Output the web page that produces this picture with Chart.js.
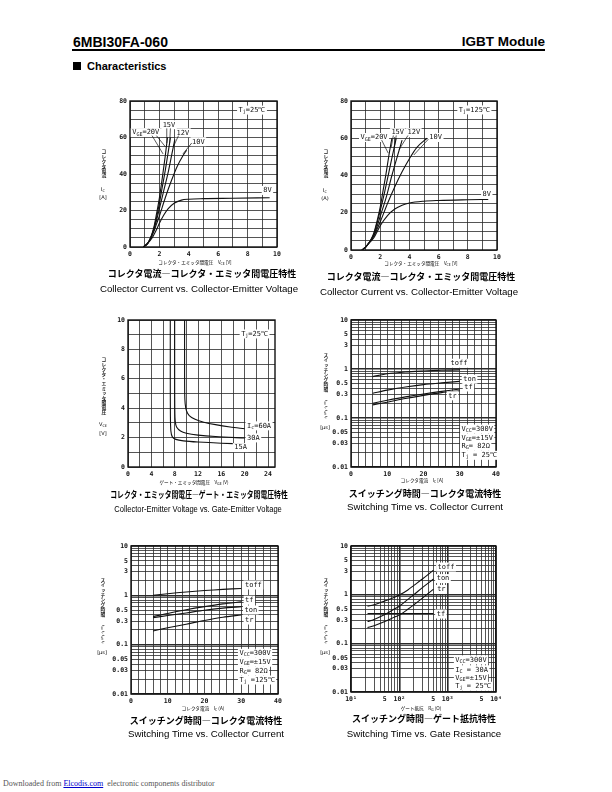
<!DOCTYPE html>
<html>
<head>
<meta charset="utf-8">
<script src="https://cdn.jsdelivr.net/npm/chart.js@4.4.1/dist/chart.umd.min.js"></script>
<style>
body { margin: 0; background: #fff; }
#page { position: relative; width: 612px; height: 792px; overflow: hidden; font-family: 'Liberation Sans', Arial, sans-serif; color: #000; }
#page div, #page canvas { position: absolute; }
.c { transform: translate(-50%, -50%); white-space: nowrap; line-height: 1; }
.jt { font-family: 'Noto Sans CJK JP'; font-weight: 700; font-size: 9px; }
.et { font-size: 9.7px; }
.ax { font-family: 'Noto Sans CJK JP'; font-size: 4.6px; }
.ax sub, .un sub { font-size: 3.5px; vertical-align: -1px; }
.vl { font-family: 'Noto Sans CJK JP'; font-weight: 700; font-size: 4.8px; writing-mode: vertical-rl; line-height: 1; transform: translateX(-50%); color: #222; }
.un { font-size: 5px; font-family: 'DejaVu Sans'; }
</style>
</head>
<body>
<div id="page">
  <div style="left:73px;top:35px;font-size:14px;font-weight:700;line-height:1;">6MBI30FA-060</div>
  <div style="right:67px;top:35px;font-size:13.5px;font-weight:700;line-height:1;">IGBT Module</div>
  <div style="left:72px;top:49px;width:473px;height:1.5px;background:#000;"></div>
  <div style="left:73px;top:62px;width:8px;height:8px;background:#000;"></div>
  <div style="left:87px;top:60.5px;font-size:11px;font-weight:700;line-height:1;">Characteristics</div>

  <canvas id="c1"></canvas>
  <canvas id="c2"></canvas>
  <canvas id="c3"></canvas>
  <canvas id="c4"></canvas>
  <canvas id="c5"></canvas>
  <canvas id="c6"></canvas>

  <!-- row 1 -->
  <div class="vl" style="left:103px;top:149px;">コレクタ電流</div>
  <div class="un c" style="left:103px;top:190px;">I<sub>C</sub></div>
  <div class="un c" style="left:103px;top:197px;">[A]</div>
  <div class="ax c" style="left:195px;top:263px;">コレクタ・エミッタ間電圧　V<sub>CE</sub> [V]</div>
  <div class="jt c" style="left:202px;top:273px;">コレクタ電流―コレクタ・エミッタ間電圧特性</div>
  <div class="et c" style="left:199px;top:289px;">Collector Current vs. Collector-Emitter Voltage</div>

  <div class="vl" style="left:325px;top:149px;">コレクタ電流</div>
  <div class="un c" style="left:325px;top:191px;">I<sub>C</sub></div>
  <div class="un c" style="left:325px;top:198px;">(A)</div>
  <div class="ax c" style="left:421px;top:264px;">コレクタ・エミッタ間電圧　V<sub>CE</sub> [V]</div>
  <div class="jt c" style="left:421px;top:276px;">コレクタ電流―コレクタ・エミッタ間電圧特性</div>
  <div class="et c" style="left:419px;top:292px;">Collector Current vs. Collector-Emitter Voltage</div>

  <!-- row 2 -->
  <div class="vl" style="left:103px;top:357px;">コレクタ・エミッタ間電圧</div>
  <div class="un c" style="left:103px;top:425px;">V<sub>CE</sub></div>
  <div class="un c" style="left:103px;top:433px;">[V]</div>
  <div class="ax c" style="left:194px;top:483px;">ゲート・エミッタ間電圧　V<sub>GE</sub> (V)</div>
  <div class="jt c" style="left:199px;top:494px;transform:translate(-50%,-50%) scaleX(0.76);">コレクタ・エミッタ間電圧―ゲート・エミッタ間電圧特性</div>
  <div class="et c" style="left:198px;top:509px;transform:translate(-50%,-50%) scaleX(0.78);">Collector-Emitter Voltage vs. Gate-Emitter Voltage</div>

  <div class="vl" style="left:325px;top:353px;">スイッチング時間</div>
  <div class="vl" style="left:325px;top:400px;font-family:'DejaVu Sans';font-weight:400;font-size:3.5px;">t<sub>on</sub> t<sub>r</sub> t<sub>off</sub> t<sub>f</sub></div>
  <div class="un c" style="left:325px;top:427px;">[μs]</div>
  <div class="ax c" style="left:422px;top:481px;">コレクタ電流　I<sub>C</sub> [A]</div>
  <div class="jt c" style="left:425px;top:493px;">スイッチング時間―コレクタ電流特性</div>
  <div class="et c" style="left:425px;top:507px;">Switching Time vs. Collector Current</div>

  <!-- row 3 -->
  <div class="vl" style="left:102px;top:578px;">スイッチング時間</div>
  <div class="vl" style="left:102px;top:625px;font-family:'DejaVu Sans';font-weight:400;font-size:3.5px;">t<sub>on</sub> t<sub>r</sub> t<sub>off</sub> t<sub>f</sub></div>
  <div class="un c" style="left:102px;top:652px;">[μs]</div>
  <div class="ax c" style="left:203px;top:709px;">コレクタ電流　I<sub>C</sub> (A)</div>
  <div class="jt c" style="left:206px;top:720px;">スイッチング時間―コレクタ電流特性</div>
  <div class="et c" style="left:206px;top:734px;">Switching Time vs. Collector Current</div>

  <div class="vl" style="left:325px;top:578px;">スイッチング時間</div>
  <div class="vl" style="left:325px;top:625px;font-family:'DejaVu Sans';font-weight:400;font-size:3.5px;">t<sub>on</sub> t<sub>r</sub> t<sub>off</sub> t<sub>f</sub></div>
  <div class="un c" style="left:325px;top:652px;">[μs]</div>
  <div class="ax c" style="left:421px;top:709px;">ゲート抵抗　R<sub>G</sub> (Ω)</div>
  <div class="jt c" style="left:424px;top:718px;">スイッチング時間―ゲート抵抗特性</div>
  <div class="et c" style="left:424px;top:734px;">Switching Time vs. Gate Resistance</div>

  <div style="left:3px;top:780px;font-family:'Liberation Serif';font-size:8px;color:#555;line-height:1;white-space:nowrap;">Downloaded from <span style="color:#00c;text-decoration:underline;">Elcodis.com</span>&nbsp; electronic components distributor</div>
</div>

<script>
// ---- Ic vs Vce, Tj = 25C  (x = Vce [V], y = Ic [A]) ----
const vce25_20V = [[0.9,0],[1.2,2],[1.4,5],[1.6,10],[1.8,18],[2.0,27],[2.2,38],[2.4,50],[2.55,60]];
const vce25_15V = [[0.9,0],[1.2,2],[1.4,5],[1.6,9.5],[1.8,16],[2.0,24],[2.2,33],[2.4,42],[2.6,52],[2.75,60]];
const vce25_12V = [[0.9,0],[1.2,2],[1.4,5],[1.6,9],[1.8,14.5],[2.0,21],[2.3,31],[2.6,41],[2.85,51],[3.05,59]];
const vce25_10V = [[0.9,0],[1.2,2],[1.4,4.5],[1.6,8],[1.8,12.5],[2.0,17],[2.4,27],[2.8,36],[3.2,44],[3.6,50],[3.85,53]];
const vce25_8V  = [[0.9,0],[1.2,2],[1.5,5],[1.8,9.5],[2.0,13],[2.3,17.5],[2.6,21],[3.0,24],[3.5,25.7],[4,26.2],[5,26.5],[7,26.7],[9.5,27]];

// ---- Ic vs Vce, Tj = 125C ----
const vce125_20V = [[0.75,0],[1.0,1.5],[1.2,3.5],[1.4,6],[1.6,10],[1.8,16],[2.0,23],[2.2,32],[2.4,41],[2.6,51],[2.8,60]];
const vce125_15V = [[0.75,0],[1.0,1.5],[1.2,3.5],[1.4,6],[1.6,9.5],[1.8,15],[2.0,21],[2.3,31],[2.6,42],[2.9,53],[3.1,60]];
const vce125_12V = [[0.75,0],[1.0,1.5],[1.2,3.5],[1.4,5.5],[1.6,8.5],[1.8,13],[2.0,18],[2.4,28],[2.8,40],[3.2,51],[3.5,59]];
const vce125_10V = [[0.75,0],[1.0,1.5],[1.2,3.5],[1.4,5.5],[1.6,8],[1.8,11.5],[2.0,15],[2.5,25],[3.0,34],[3.5,42],[4.0,49],[4.5,55],[5.2,60]];
const vce125_8V  = [[0.75,0],[1.0,1.5],[1.2,3.5],[1.4,5],[1.6,7],[1.8,10],[2.0,13],[2.5,18.5],[3.0,22],[3.5,24],[4,25.2],[5,26.2],[6,26.6],[8,27],[9.4,27.2]];

// ---- Vce vs Vge, Tj = 25C  (x = Vge [V], y = Vce [V]) ----
const vge_60A = [[9.7,10],[9.7,7],[9.72,5],[9.8,4.3],[10.0,3.85],[10.5,3.5],[11.5,3.25],[13,3.05],[15,2.88],[17.5,2.72],[20,2.6]];
const vge_30A = [[8.0,10],[8.0,6],[8.02,4],[8.1,3.1],[8.35,2.7],[9,2.45],[10,2.3],[12,2.17],[15,2.07],[20,1.97]];
const vge_15A = [[7.25,10],[7.25,6],[7.27,3.5],[7.35,2.45],[7.6,2.05],[8.2,1.88],[9.5,1.78],[12,1.7],[16,1.62],[20,1.57]];

// ---- switching time vs Ic [us] ----
const icSw = [6, 10, 15, 20, 25, 30];
const toff25 = [0.70, 0.80, 0.87, 0.91, 0.94, 0.96];
const ton25  = [0.32, 0.37, 0.43, 0.48, 0.52, 0.56];
const tf25   = [0.20, 0.23, 0.27, 0.31, 0.35, 0.39];
const tr25   = [0.185, 0.21, 0.25, 0.29, 0.33, 0.36];

const toff125 = [1.00, 1.08, 1.17, 1.25, 1.32, 1.38];
const tf125   = [0.37, 0.43, 0.51, 0.59, 0.67, 0.74];
const ton125  = [0.35, 0.39, 0.44, 0.50, 0.55, 0.59];
const tr125   = [0.19, 0.22, 0.26, 0.31, 0.36, 0.40];

// ---- switching time vs Rg [ohm] ----
const rg = [22, 30, 50, 82, 100, 150, 200, 300, 510];
const toffRg = [0.58, 0.62, 0.74, 0.90, 0.98, 1.25, 1.55, 2.1, 3.2];
const tonRg  = [0.28, 0.31, 0.39, 0.52, 0.58, 0.80, 1.0, 1.4, 2.1];
const trRg   = [0.21, 0.23, 0.28, 0.35, 0.38, 0.50, 0.62, 0.85, 1.3];
const tfRg   = [0.41, 0.41, 0.41, 0.41, 0.41, 0.41, 0.41, 0.41, 0.41];

// ---- tick labels ----
const vceTicks = [0, 2, 4, 6, 8, 10];
const icTicks = [0, 20, 40, 60, 80];
const vgeTicks = [0, 4, 8, 12, 16, 20, 24];
const vceSatTicks = [0, 2, 4, 6, 8, 10];
const icSwTicks = [0, 10, 20, 30, 40];
const timeTicks = [0.01, 0.03, 0.05, 0.1, 0.3, 0.5, 1, 3, 5, 10];
const timeTickText = ['0.01', '0.03', '0.05', '0.1', '0.3', '0.5', '1', '3', '5', '10'];
const rgTicks = [10, 50, 100, 500, 1000, 5000, 10000];
const rgTickText = ['10¹', '5', '10²', '5', '10³', '5', '10⁴'];

const INK = '#111';
const tickFont = { family: 'DejaVu Sans Mono', size: 6.5, weight: 'bold' };

function range(a, b, step) {
    const out = [];
    for (let v = a; v <= b + 1e-9; v += step) out.push(Math.round(v * 1000) / 1000);
    return out;
}
function logGrid(lo, hi) {
    const out = [];
    for (let d = lo; d < hi; d++) {
        for (let k = 1; k < 10; k++) out.push(d < 0 ? k / Math.pow(10, -d) : k * Math.pow(10, d));
    }
    out.push(Math.pow(10, hi));
    return out;
}
const same = (a, b) => Math.abs(a - b) <= Math.abs(b) * 1e-6 + 1e-9;
const isDecade = v => same(Math.log10(v), Math.round(Math.log10(v)));

function axis(pos, type, min, max, grid, labels, texts) {
    return {
        type: type, position: pos, min: min, max: max,
        afterBuildTicks: s => { s.ticks = grid.map(v => ({ value: v })); },
        afterFit: s => {
            if (pos === 'left') s.width = 34; else s.height = 14;
            s.paddingLeft = s.paddingRight = s.paddingTop = s.paddingBottom = 0;
        },
        ticks: {
            autoSkip: false, maxRotation: 0, minRotation: 0, padding: 3,
            color: INK, font: tickFont,
            callback: v => {
                const i = labels.findIndex(l => same(v, l));
                return i < 0 ? '' : (texts ? texts[i] : String(labels[i]));
            }
        },
        grid: {
            color: '#2a2a2a', drawTicks: false,
            lineWidth: c => (type === 'logarithmic' && c.tick && isDecade(c.tick.value)) ? 1.6 : 0.8
        },
        border: { display: false }
    };
}

function line(points, smooth) {
    return {
        data: points.map(p => ({ x: p[0], y: p[1] })),
        showLine: true, borderColor: INK, borderWidth: 1.1, pointRadius: 0,
        cubicInterpolationMode: smooth ? 'monotone' : 'default', tension: 0.3
    };
}
const zip = (xs, ys) => xs.map((x, i) => [x, ys[i]]);

// white-backed label, "{..}" marks a subscript
function drawRich(ctx, text, px, py, align) {
    const parts = text.split(/[{}]/);
    const big = '7px "DejaVu Sans Mono"', small = '5px "DejaVu Sans Mono"';
    let w = 0;
    parts.forEach((p, i) => { ctx.font = i % 2 ? small : big; w += ctx.measureText(p).width; });
    let x0 = align === 'left' ? px : px - w / 2;
    ctx.fillStyle = '#fff';
    ctx.fillRect(x0 - 1.5, py - 4.5, w + 3, 9);
    ctx.fillStyle = INK;
    ctx.textBaseline = 'middle';
    parts.forEach((p, i) => {
        ctx.font = i % 2 ? small : big;
        ctx.fillText(p, x0, py + (i % 2 ? 1.8 : 0));
        x0 += ctx.measureText(p).width;
    });
}

const framePlugin = {
    id: 'frame',
    beforeDatasetsDraw(chart) {
        const a = chart.chartArea, ctx = chart.ctx;
        ctx.save();
        ctx.strokeStyle = INK;
        ctx.lineWidth = 1.4;
        ctx.strokeRect(a.left, a.top, a.right - a.left, a.bottom - a.top);
        ctx.restore();
    }
};
const notesPlugin = {
    id: 'notes',
    afterDatasetsDraw(chart, args, opts) {
        const ctx = chart.ctx, x = chart.scales.x, y = chart.scales.y;
        ctx.save();
        (opts.items || []).forEach(n => drawRich(ctx, n[2], x.getPixelForValue(n[0]), y.getPixelForValue(n[1]), n[3]));
        ctx.strokeStyle = INK;
        ctx.lineWidth = 0.7;
        (opts.leaders || []).forEach(l => {
            ctx.beginPath();
            ctx.moveTo(x.getPixelForValue(l[0]), y.getPixelForValue(l[1]));
            ctx.lineTo(x.getPixelForValue(l[2]), y.getPixelForValue(l[3]));
            ctx.stroke();
        });
        ctx.restore();
    }
};

// plot area in page pixels: [left, top, right, bottom]
function makeChart(id, box, datasets, xAxis, yAxis, notes) {
    const cv = document.getElementById(id);
    cv.width = box[2] - box[0] + 44;
    cv.height = box[3] - box[1] + 20;
    cv.style.left = (box[0] - 34) + 'px';
    cv.style.top = (box[1] - 6) + 'px';
    new Chart(cv, {
        type: 'scatter',
        data: { datasets: datasets },
        options: {
            responsive: false, animation: false,
            layout: { padding: { left: 0, top: 6, right: 10, bottom: 0 } },
            plugins: { legend: { display: false }, tooltip: { enabled: false }, notes: notes },
            scales: { x: xAxis, y: yAxis }
        },
        plugins: [framePlugin, notesPlugin]
    });
}

makeChart('c1', [130, 101, 277, 247],
    [line(vce25_20V, true), line(vce25_15V, true), line(vce25_12V, true), line(vce25_10V, true), line(vce25_8V, true)],
    axis('bottom', 'linear', 0, 10, range(0, 10, 1), vceTicks),
    axis('left', 'linear', 0, 80, range(0, 80, 5), icTicks),
    {
        items: [[8.3, 75, 'T{j}=25℃'], [0.15, 62.7, 'V{GE}=20V', 'left'], [2.65, 67, '15V'],
                [3.6, 62.6, '12V'], [4.65, 57.7, '10V'], [9.35, 31, '8V']],
        leaders: [[1.5, 61, 2.25, 51], [1.8, 61, 2.4, 55], [2.5, 65, 2.5, 57], [2.75, 65, 2.7, 57],
                  [3.3, 61, 2.95, 55], [4.2, 57, 3.6, 51]]
    });

makeChart('c2', [351, 101, 497, 250],
    [line(vce125_20V, true), line(vce125_15V, true), line(vce125_12V, true), line(vce125_10V, true), line(vce125_8V, true)],
    axis('bottom', 'linear', 0, 10, range(0, 10, 1), vceTicks),
    axis('left', 'linear', 0, 80, range(0, 80, 5), icTicks),
    {
        items: [[8.45, 75.2, 'T{j}=125℃'], [0.65, 60.4, 'V{GE}=20V', 'left'], [3.2, 63, '15V'],
                [4.3, 63, '12V'], [5.8, 60.4, '10V'], [9.3, 29.8, '8V']],
        leaders: [[2.1, 59, 2.55, 52], [2.9, 61.5, 2.75, 55], [3.1, 61.5, 2.95, 55],
                  [3.9, 61.5, 3.3, 54], [5.3, 59.5, 4.3, 51]]
    });

makeChart('c3', [128, 320, 275, 467],
    [line(vge_60A), line(vge_30A), line(vge_15A)],
    axis('bottom', 'linear', 0, 25.2, range(0, 24, 2), vgeTicks),
    axis('left', 'linear', 0, 10, range(0, 10, 1), vceSatTicks),
    {
        items: [[21.7, 9.05, 'T{j}=25℃'], [20.4, 2.8, 'I{c}=60A', 'left'], [21.5, 1.98, '30A'], [19.3, 1.32, '15A']]
    });

makeChart('c4', [351, 320, 496, 467],
    [line(zip(icSw, toff25)), line(zip(icSw, ton25)), line(zip(icSw, tf25)), line(zip(icSw, tr25))],
    axis('bottom', 'linear', 0, 40, range(0, 40, 2), icSwTicks),
    axis('left', 'logarithmic', 0.01, 10, logGrid(-2, 1), timeTicks, timeTickText),
    {
        items: [[29.8, 1.31, 'toff'], [32.7, 0.62, 'ton'], [32.4, 0.43, 'tf'], [28, 0.284, 'tr'],
                [30.5, 0.0595, 'V{CC}=300V', 'left'], [30.5, 0.039, 'V{GE}=±15V', 'left'],
                [30.5, 0.0264, 'R{G}= 82Ω', 'left'], [30.5, 0.0173, 'T{j} = 25℃', 'left']]
    });

makeChart('c5', [131, 546, 278, 694],
    [line(zip(icSw, toff125)), line(zip(icSw, tf125)), line(zip(icSw, ton125)), line(zip(icSw, tr125))],
    axis('bottom', 'linear', 0, 40, range(0, 40, 2), icSwTicks),
    axis('left', 'logarithmic', 0.01, 10, logGrid(-2, 1), timeTicks, timeTickText),
    {
        items: [[33.3, 1.62, 'toff'], [32.2, 0.80, 'tf'], [32.6, 0.505, 'ton'], [32.2, 0.316, 'tr'],
                [29.5, 0.0667, 'V{CC}=300V', 'left'], [29.5, 0.044, 'V{GE}=±15V', 'left'],
                [29.5, 0.0292, 'R{G}= 82Ω', 'left'], [29.5, 0.0192, 'T{j} =125℃', 'left']]
    });

makeChart('c6', [351, 546, 496, 692],
    [line(zip(rg, toffRg), true), line(zip(rg, tonRg), true), line(zip(rg, trRg), true), line(zip(rg, tfRg), true)],
    axis('bottom', 'logarithmic', 10, 10000, logGrid(1, 4), rgTicks, rgTickText),
    axis('left', 'logarithmic', 0.01, 10, logGrid(-2, 1), timeTicks, timeTickText),
    {
        items: [[925, 3.7, 'toff'], [800, 2.14, 'ton'], [741, 1.28, 'tr'], [724, 0.40, 'tf'],
                [1443, 0.0458, 'V{CC}=300V', 'left'], [1443, 0.0286, 'I{C} = 30A', 'left'],
                [1443, 0.0193, 'V{GE}=±15V', 'left'], [1443, 0.0131, 'T{j} = 25℃', 'left']]
    });
</script>
</body>
</html>
